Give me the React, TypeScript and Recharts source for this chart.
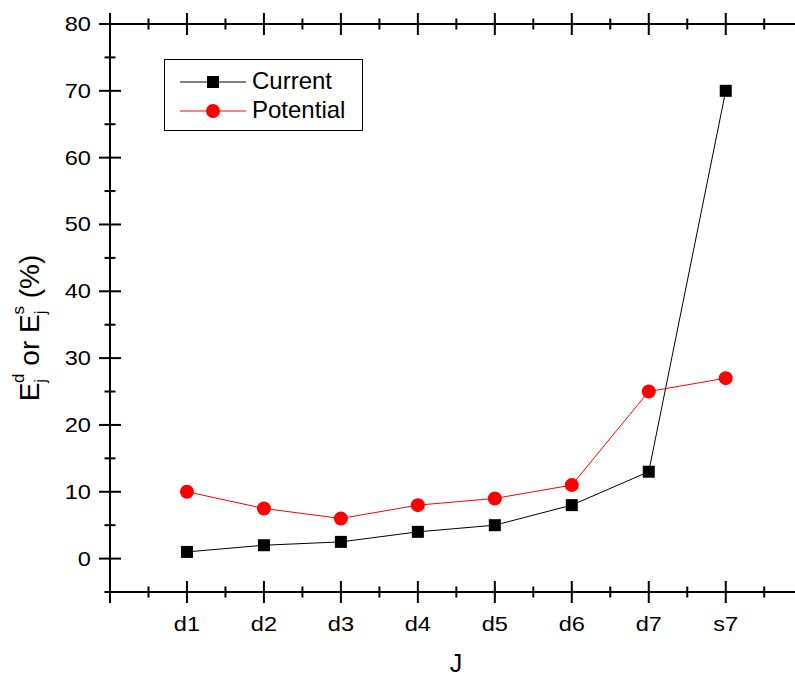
import { LineChart, Line, XAxis, YAxis } from 'recharts';

const categories = ['d1', 'd2', 'd3', 'd4', 'd5', 'd6', 'd7', 's7'];
const current = [1, 2, 2.5, 4, 5, 8, 13, 70];
const potential = [10, 7.5, 6, 8, 9, 11, 25, 27];
const xTicks = [0, 0.5, 1, 1.5, 2, 2.5, 3, 3.5, 4, 4.5, 5, 5.5, 6, 6.5, 7, 7.5, 8, 8.5];
const yTicks = [-5, 0, 5, 10, 15, 20, 25, 30, 35, 40, 45, 50, 55, 60, 65, 70, 75, 80];

const data = categories.map((c, i) => ({ x: i + 1, name: c, current: current[i], potential: potential[i] }));

const FONT = 'Arial, "Liberation Sans", sans-serif';
// tick labels in the original look a bit wider than plain Arial
const STRETCH = 1.18;

const XTick = (props: any) => {
  const { x, y, payload, top } = props;
  const v = payload.value;
  const major = Number.isInteger(v);
  const len = major ? 11 : 5.5;
  return (
    <g>
      <line x1={x} x2={x} y1={y - len} y2={y + len} stroke="#000" strokeWidth={2} />
      {!top && major && v >= 1 && (
        <text
          transform={`translate(${x}, ${y + 39}) scale(${STRETCH}, 1)`}
          textAnchor="middle"
          fontSize={20}
          fontFamily={FONT}
          fill="#000"
        >
          {categories[v - 1]}
        </text>
      )}
    </g>
  );
};

const YTick = (props: any) => {
  const { x, y, payload } = props;
  const v = payload.value;
  const major = v % 10 === 0;
  const len = major ? 11 : 5.5;
  return (
    <g>
      <line x1={x - len} x2={x + len} y1={y} y2={y} stroke="#000" strokeWidth={2} />
      {major && (
        <text
          transform={`translate(${x - 19}, ${y + 7}) scale(${STRETCH}, 1)`}
          textAnchor="end"
          fontSize={20}
          fontFamily={FONT}
          fill="#000"
        >
          {v}
        </text>
      )}
    </g>
  );
};

const YLabel = () => (
  <text
    transform="translate(39, 328) rotate(-90)"
    textAnchor="middle"
    fontSize={28}
    fontFamily={FONT}
    fill="#000"
  >
    E
    <tspan fontSize={17} dy={7}>j</tspan>
    <tspan fontSize={17} dx={-4} dy={-22}>d</tspan>
    <tspan dy={15}> or E</tspan>
    <tspan fontSize={17} dy={7}>j</tspan>
    <tspan fontSize={17} dx={-4} dy={-22}>s</tspan>
    <tspan dy={15}> (%)</tspan>
  </text>
);

const XLabel = () => (
  <text x={456} y={672} textAnchor="middle" fontSize={25} fontFamily={FONT} fill="#000">
    J
  </text>
);

const LegendBox = () => (
  <div
    style={{
      position: 'absolute',
      left: 164,
      top: 59,
      width: 197,
      height: 70,
      border: '1.5px solid #000',
      background: '#fff',
    }}
  >
    <svg width={197} height={70} style={{ display: 'block' }}>
      <line x1={15} x2={81} y1={22} y2={22} stroke="#000" strokeWidth={1} />
      <rect x={42} y={16} width={12} height={12} fill="#000" />
      <line x1={15} x2={81} y1={51} y2={51} stroke="#f00" strokeWidth={1} />
      <circle cx={48} cy={51} r={7} fill="#f00" />
      <text x={87} y={29} fontSize={24} fontFamily={FONT} fill="#000">Current</text>
      <text x={87} y={58} fontSize={24} fontFamily={FONT} fill="#000">Potential</text>
    </svg>
  </div>
);

const squareDot = (p: any) => (
  <rect key={`sq-${p.index}`} x={p.cx - 6} y={p.cy - 6} width={12} height={12} fill="#000" />
);

export default function App() {
  return (
    <div style={{ position: 'absolute', left: 0, top: 0, width: 795, height: 679, background: '#fff' }}>
      <LineChart
        width={795}
        height={679}
        data={data}
        margin={{ top: 14, right: 0, bottom: 47, left: 50 }}
      >
        <XAxis
          dataKey="x"
          type="number"
          domain={[0, 8.9]}
          ticks={xTicks}
          interval={0}
          allowDataOverflow
          height={40}
          tickSize={0}
          tickMargin={0}
          axisLine={{ stroke: '#000', strokeWidth: 2 }}
          tickLine={false}
          tick={<XTick />}
          label={<XLabel />}
        />
        <XAxis
          xAxisId="top"
          orientation="top"
          dataKey="x"
          type="number"
          domain={[0, 8.9]}
          ticks={xTicks}
          interval={0}
          allowDataOverflow
          height={10}
          tickSize={0}
          tickMargin={0}
          axisLine={{ stroke: '#000', strokeWidth: 2 }}
          tickLine={false}
          tick={<XTick top />}
        />
        <YAxis
          type="number"
          domain={[-5, 80]}
          ticks={yTicks}
          interval={0}
          allowDataOverflow
          width={60}
          tickSize={0}
          tickMargin={0}
          axisLine={{ stroke: '#000', strokeWidth: 2 }}
          tickLine={false}
          tick={<YTick />}
          label={<YLabel />}
        />
        <Line
          dataKey="current"
          stroke="#000"
          strokeWidth={1}
          dot={squareDot}
          activeDot={false}
          isAnimationActive={false}
        />
        <Line
          dataKey="potential"
          stroke="#f00"
          strokeWidth={1}
          dot={{ r: 7, fill: '#f00', stroke: 'none' }}
          activeDot={false}
          isAnimationActive={false}
        />
      </LineChart>
      <LegendBox />
    </div>
  );
}
